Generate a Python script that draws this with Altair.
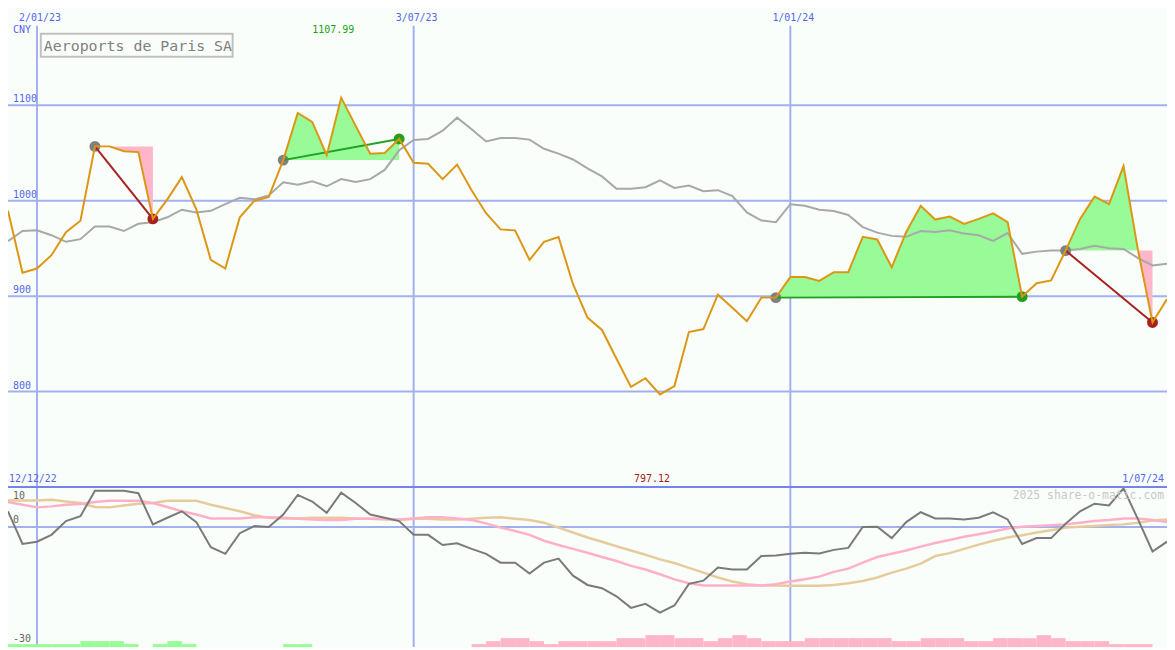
import altair as alt
import pandas as pd

# ---------------- data (weekly closes) ----------------
start_date = "2022-12-19"
n_weeks = 81

price = [989.5, 924.5, 929, 943, 967, 979, 1057, 1057, 1052, 1051,
         981, 1001.5, 1024.8, 991, 938, 929, 982.7, 999.8, 1004, 1042.6,
         1092, 1082.6, 1047.7, 1107.99, 1078.5, 1049.4, 1050, 1064.8, 1039.8, 1038.8,
         1022.7, 1038, 1011, 987, 970, 969, 938, 957, 962, 912.5,
         877.6, 864.6, 834.5, 805, 814, 797.12, 805.8, 862.5, 865.6, 901.6,
         887.9, 873.8, 898.5, 898.5, 920, 920, 916, 925.2, 925.2, 962.2,
         959.4, 930.3, 967.3, 994.7, 980.3, 983.4, 975.8, 981, 986.8, 977.5,
         899.5, 913.6, 916.6, 947.8, 981, 1004.3, 996.4, 1036.4, 948, 872.5,
         897]

moving_avg = [957.7, 968.3, 969, 963.9, 957, 959.8, 973.1, 973.1, 968.3, 975.9,
              977.5, 982.7, 990.6, 987.8, 989.5, 996.4, 1003.2, 1001.5, 1005.6, 1019.3,
              1016.9, 1020.3, 1015.2, 1022.7, 1019.6, 1022.7, 1032.3, 1052.9, 1063.8, 1064.8,
              1073.4, 1087.1, 1075, 1062.1, 1065.8, 1065.8, 1064.1, 1054.5, 1049.4, 1043.3,
              1034, 1025.5, 1012.5, 1012.5, 1014.2, 1021.4, 1013.5, 1015.9, 1010.1, 1011.1,
              1004.9, 987.8, 979.3, 977.5, 996.4, 994.7, 990.6, 989.2, 985.1, 972.4,
              966.6, 963.2, 962.2, 968.3, 967.3, 969, 965.6, 963.9, 958, 966.2,
              944.4, 946.7, 947.8, 947.8, 949.5, 952.9, 950.2, 949.5, 939.9, 932.3,
              934.1]

momentum = [3.94, -4.23, -3.66, -1.94, 1.49, 2.71, 9.09, 9.09, 9.09, 8.45,
            0.67, 2.32, 3.94, 1.24, -5.04, -6.69, -1.53, 0.26, 0.02, 3.13,
            8.04, 6.39, 3.55, 8.61, 6.0, 3.13, 2.32, 1.49, -1.94, -1.94,
            -4.48, -4.06, -5.46, -6.69, -8.9, -8.9, -11.6, -8.9, -7.9, -12.16,
            -14.47, -15.28, -17.3, -20.2, -19.2, -21.4, -19.6, -14.2, -13.4, -10.1,
            -10.6, -10.6, -7.25, -7.09, -6.69, -6.44, -6.6, -5.7, -5.21, 0.02,
            0.1, -2.76, 1.24, 3.7, 2.15, 2.15, 1.9, 2.32, 3.7, 1.9,
            -4.23, -2.76, -2.76, 0.84, 3.94, 5.83, 5.41, 9.67, 1.9, -6.11,
            -3.66]

signal_fast = [6.24, 5.58, 4.92, 5.17, 5.58, 5.75, 6.24, 6.56, 6.56, 6.56,
               5.99, 5.0, 3.94, 3.13, 2.15, 2.15, 2.15, 2.47, 2.47, 2.32,
               2.07, 1.9, 1.74, 1.74, 2.07, 2.07, 2.07, 1.9, 2.15, 2.47,
               2.47, 2.15, 1.74, 0.92, -0.14, -0.97, -1.95, -3.42, -4.48, -5.46,
               -6.44, -7.5, -8.48, -9.71, -10.6, -11.8, -13.07, -14.05, -14.6, -14.6,
               -14.6, -14.6, -14.6, -14.3, -13.6, -13.07, -12.4, -11.2, -10.4, -8.9,
               -7.5, -6.69, -5.87, -4.89, -3.99, -3.25, -2.44, -1.78, -1.12, -0.38,
               0.1, 0.26, 0.43, 0.67, 1.08, 1.49, 1.74, 2.15, 2.15, 1.74,
               1.24]

signal_slow = [6.64, 6.64, 6.64, 6.81, 6.4, 5.99, 5.0, 4.92, 5.41, 5.83,
               5.99, 6.56, 6.56, 6.56, 5.58, 4.76, 3.94, 2.96, 2.32, 2.15,
               2.15, 2.32, 2.32, 2.32, 2.15, 2.07, 1.9, 1.74, 2.07, 2.07,
               1.9, 1.9, 2.07, 2.32, 2.47, 2.07, 1.74, 1.08, -0.14, -1.37,
               -2.6, -3.66, -4.81, -5.87, -6.93, -8.08, -8.98, -10.2, -11.4, -12.6,
               -13.6, -14.3, -14.6, -14.6, -14.7, -14.7, -14.7, -14.47, -14.05, -13.5,
               -12.6, -11.4, -10.4, -9.14, -7.25, -6.52, -5.46, -4.4, -3.42, -2.6,
               -2.03, -1.37, -0.8, -0.14, 0.1, 0.26, 0.5, 0.67, 1.08, 1.65,
               1.9]

# histogram levels: positive = green, negative = pink
histogram = [1, 1, 1, 1, 1, 2, 2, 2, 1, 0,
             1, 2, 1, 0, 0, 0, 0, 0, 0, 1,
             1, 0, 0, 0, 0, 0, 0, 0, 0, 0,
             0, 0, -1, -2, -3, -3, -2, -1, -2, -2,
             -2, -2, -3, -3, -4, -4, -3, -3, -2, -3,
             -4, -3, -2, -2, -2, -3, -3, -3, -3, -3,
             -3, -2, -2, -3, -3, -3, -2, -2, -3, -3,
             -3, -4, -3, -2, -2, -2, -1, -1, -1, 0,
             0]

trade_start = ["2023-01-30", "2023-05-01", "2023-12-25", "2024-05-13"]
trade_end = ["2023-02-27", "2023-06-26", "2024-04-22", "2024-06-24"]

grid_dates = ["2023-01-02", "2023-07-03", "2024-01-01"]
grid_date_labels = ["2/01/23", "3/07/23", "1/01/24"]
price_ticks = [800, 900, 1000, 1100]
price_tick_labels = ["800", "900", "1000", "1100"]
osc_ticks = [10, 0, -30]
osc_tick_labels = ["10", "0", "-30"]
osc_tick_dy = [9, -7, -8]
first_label = "12/12/22"
last_label = "1/07/24"
currency = "CNY"
title_text = "Aeroports de Paris SA"
credit = "2025 share-o-matic.com"

# ---------------- styling ----------------
FONT = "DejaVu Sans Mono"
BG = "#FAFEFA"
GRID = "#A3B0F0"
SEP = "#7583EC"
BLUE_TXT = "#5566EE"
ORANGE = "#DB9714"
MA_GRAY = "#A8A8A8"
FILL_UP = "#98FB98"
FILL_DN = "#FFB6C8"
LINE_UP = "#22A022"
LINE_DN = "#A01E1E"
DOT_START = "#808080"
MOM_GRAY = "#7A7A7A"
SIG_PINK = "#FFB0C8"
SIG_TAN = "#E6CC9C"

W, H = 1166, 641
TOP_H = 480
DAYS = 560

# ---------------- tables ----------------
dates = pd.date_range(start_date, periods=n_weeks, freq="7D")
t_days = [(d - dates[0]).days for d in dates]

df = pd.DataFrame({
    "t": t_days,
    "t2": [t + 7 for t in t_days],
    "price": price,
    "ma": moving_avg,
    "mom": momentum,
    "sig1": signal_fast,
    "sig2": signal_slow,
    "hist": histogram,
})
df["habs"] = df["hist"].abs()

fill_rows, trend_rows, dot_rows = [], [], []
for i, (s, e) in enumerate(zip(trade_start, trade_end)):
    si = dates.get_loc(pd.Timestamp(s))
    ei = dates.get_loc(pd.Timestamp(e))
    lvl = price[si]
    outcome = "gain" if price[ei] >= lvl else "loss"
    for k in range(si, ei + 1):
        fill_rows.append({"t": t_days[k], "region": i, "level": lvl,
                          "up": max(price[k], lvl), "dn": min(price[k], lvl)})
    trend_rows.append({"t": t_days[si], "p": lvl, "region": i, "outcome": outcome})
    trend_rows.append({"t": t_days[ei], "p": price[ei], "region": i, "outcome": outcome})
    dot_rows.append({"t": t_days[si], "p": lvl, "kind": "start"})
    dot_rows.append({"t": t_days[ei], "p": price[ei], "kind": outcome})
fills = pd.DataFrame(fill_rows)
trends = pd.DataFrame(trend_rows)
dots = pd.DataFrame(dot_rows)

grid_df = pd.DataFrame({
    "t": [(pd.Timestamp(d) - dates[0]).days for d in grid_dates],
    "label": grid_date_labels,
})
pt_df = pd.DataFrame({"v": price_ticks, "label": price_tick_labels})

imax = max(range(n_weeks), key=lambda k: price[k])
imin = min(range(n_weeks), key=lambda k: price[k])
ext_df = pd.DataFrame({
    "t": [t_days[imax], t_days[imin]],
    "label": [f"{price[imax]:.2f}", f"{price[imin]:.2f}"],
    "kind": ["max", "min"],
})
one = pd.DataFrame({"a": [0]})

# ---------------- encodings ----------------
X = alt.X("t:Q", scale=alt.Scale(domain=[0, DAYS], nice=False, zero=False), axis=None)


def yp(field):
    return alt.Y(f"{field}:Q", axis=None,
                 scale=alt.Scale(domain=[700, 1200], range=[TOP_H, 0], nice=False, zero=False))


def yo(field):
    return alt.Y(f"{field}:Q", axis=None,
                 scale=alt.Scale(domain=[-30, 10], range=[H, TOP_H], nice=False, zero=False))


base = alt.Chart(df)

# gridlines
vgrid = alt.Chart(grid_df).mark_rule(color=GRID, strokeWidth=2).encode(
    x=X, y=alt.value(16), y2=alt.value(H))
hgrid = alt.Chart(pt_df).mark_rule(color=GRID, strokeWidth=2).encode(y=yp("v"))
ogrid = alt.Chart(pd.DataFrame({"v": [0]})).mark_rule(color=GRID, strokeWidth=2).encode(y=yo("v"))
sep = alt.Chart(pd.DataFrame({"v": [10]})).mark_rule(color=SEP, strokeWidth=2).encode(y=yo("v"))

# price panel
fill_up = alt.Chart(fills).mark_area(color=FILL_UP, opacity=1, interpolate="linear").encode(
    x=X, y=yp("up"), y2=alt.Y2("level:Q"), detail="region:N")
fill_dn = alt.Chart(fills).mark_area(color=FILL_DN, opacity=1, interpolate="linear").encode(
    x=X, y=yp("dn"), y2=alt.Y2("level:Q"), detail="region:N")
ma_line = base.mark_line(color=MA_GRAY, strokeWidth=2).encode(x=X, y=yp("ma"))
dot_layer = alt.Chart(dots).mark_circle(size=120, opacity=1).encode(
    x=X, y=yp("p"),
    color=alt.Color("kind:N", legend=None,
                    scale=alt.Scale(domain=["start", "gain", "loss"],
                                    range=[DOT_START, LINE_UP, "#AA2020"])))
trend_layer = alt.Chart(trends).mark_line(strokeWidth=2).encode(
    x=X, y=yp("p"), detail="region:N",
    color=alt.Color("outcome:N", legend=None,
                    scale=alt.Scale(domain=["start", "gain", "loss"],
                                    range=[DOT_START, LINE_UP, LINE_DN])))
price_line = base.mark_line(color=ORANGE, strokeWidth=2).encode(x=X, y=yp("price"))

# oscillator panel
bars = base.transform_filter("datum.hist != 0").mark_rect().encode(
    x=X, x2="t2:Q",
    y=alt.Y("habs:Q", axis=None,
            scale=alt.Scale(domain=[0, 53.7], range=[H, TOP_H], nice=False, zero=False)),
    y2=alt.value(H),
    color=alt.condition("datum.hist > 0", alt.value(FILL_UP), alt.value(FILL_DN)))
slow_line = base.mark_line(color=SIG_TAN, strokeWidth=2.5).encode(x=X, y=yo("sig2"))
fast_line = base.mark_line(color=SIG_PINK, strokeWidth=2.5).encode(x=X, y=yo("sig1"))
mom_line = base.mark_line(color=MOM_GRAY, strokeWidth=2).encode(x=X, y=yo("mom"))

# texts
date_txt = alt.Chart(grid_df).mark_text(font=FONT, fontSize=10, color=BLUE_TXT,
                                        align="center", baseline="middle", dx=3).encode(
    x=X, y=alt.value(8), text="label:N")
ptick_txt = alt.Chart(pt_df).mark_text(font=FONT, fontSize=10, color=BLUE_TXT,
                                       align="left", baseline="middle", dy=-6).encode(
    x=alt.value(5), y=yp("v"), text="label:N")
otick_layers = []
for v, lab, dy in zip(osc_ticks, osc_tick_labels, osc_tick_dy):
    otick_layers.append(
        alt.Chart(pd.DataFrame({"v": [v], "label": [lab]})).mark_text(
            font=FONT, fontSize=10, color="#666666", align="left",
            baseline="middle", dy=dy).encode(
            x=alt.value(5), y=yo("v"), text="label:N"))
cny_txt = alt.Chart(one).mark_text(font=FONT, fontSize=10, color=BLUE_TXT,
                                   align="left", baseline="middle", text=currency).encode(
    x=alt.value(5), y=alt.value(20))
max_txt = alt.Chart(ext_df).transform_filter("datum.kind == 'max'").mark_text(
    font=FONT, fontSize=10, color=LINE_UP, align="center", baseline="middle", dx=-8).encode(
    x=X, y=alt.value(20), text="label:N")
min_txt = alt.Chart(ext_df).transform_filter("datum.kind == 'min'").mark_text(
    font=FONT, fontSize=10, color="#A02020", align="center", baseline="middle", dx=-8).encode(
    x=X, y=alt.value(472), text="label:N")
first_txt = alt.Chart(one).mark_text(font=FONT, fontSize=10, color=BLUE_TXT,
                                     align="left", baseline="middle", text=first_label).encode(
    x=alt.value(1), y=alt.value(472))
last_txt = alt.Chart(one).mark_text(font=FONT, fontSize=10, color=BLUE_TXT,
                                    align="right", baseline="middle", text=last_label).encode(
    x=alt.value(1163), y=alt.value(472))
credit_txt = alt.Chart(one).mark_text(font=FONT, fontSize=11.5, color="#C8C8C8",
                                      align="right", baseline="middle", text=credit).encode(
    x=alt.value(1163), y=alt.value(489))
title_box = alt.Chart(one).mark_rect(fill=BG, stroke="#C0C0C0", strokeWidth=2).encode(
    x=alt.value(33), x2=alt.value(226), y=alt.value(24), y2=alt.value(47))
title_txt = alt.Chart(one).mark_text(font=FONT, fontSize=15, color="#808080",
                                     align="left", baseline="middle", text=title_text).encode(
    x=alt.value(36), y=alt.value(36))

chart = alt.layer(
    vgrid, hgrid, ogrid,
    fill_up, fill_dn, ma_line, dot_layer, trend_layer, price_line,
    bars, slow_line, fast_line, mom_line, sep,
    date_txt, ptick_txt, *otick_layers, cny_txt, max_txt, min_txt,
    first_txt, last_txt, credit_txt, title_box, title_txt,
).resolve_scale(y="independent").properties(
    width=W, height=H, background=BG, padding=0,
    autosize=alt.AutoSizeParams(type="none"),
).configure_view(strokeWidth=0)

chart.save("out.html", embed_options={"renderer": "svg", "actions": False})
